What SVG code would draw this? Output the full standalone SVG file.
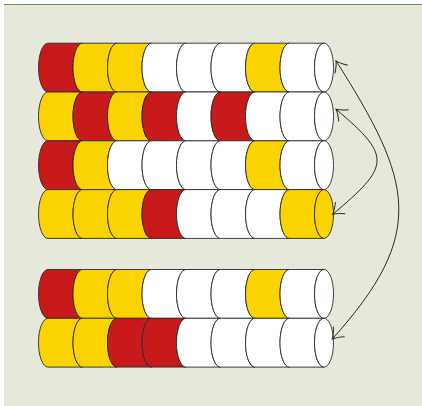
<svg xmlns="http://www.w3.org/2000/svg" xmlns:xlink="http://www.w3.org/1999/xlink" width="422" height="406" viewBox="0 0 422 406">
<style>
.r{fill:#c8191b}
.y{fill:#fbd300}
.w{fill:#ffffff}
.row{stroke:#2a2a2a;stroke-width:0.9}
.conn path{fill:none;stroke:#2a2a2a;stroke-width:1}
</style>
<defs>
<path id="seg" d="M0,-24.4 H34.5 A9.5 24.4 0 0 0 34.5,24.4 H0 A9.5 24.4 0 0 1 0,-24.4 Z"/>
<marker id="ah" viewBox="-12 -9 14 18" refX="0" refY="0" markerWidth="14" markerHeight="18" markerUnits="userSpaceOnUse" orient="auto-start-reverse">
<path d="M-10,-7.6 Q-4,-1.8 0,0 Q-4,1.8 -10,7.6" fill="none" stroke="#2a2a2a" stroke-width="1"/>
</marker>
</defs>
<rect x="4" y="4" width="418" height="402" fill="#e5e8db"/>
<line x1="4" y1="4.5" x2="422" y2="4.5" stroke="#5b9a4b" stroke-width="1.2"/>

<g id="row1" class="row" transform="translate(0,67.6)">
<use xlink:href="#seg" x="48" class="r"/><use xlink:href="#seg" x="82.5" class="y"/><use xlink:href="#seg" x="117" class="y"/><use xlink:href="#seg" x="151.5" class="w"/><use xlink:href="#seg" x="186" class="w"/><use xlink:href="#seg" x="220.5" class="w"/><use xlink:href="#seg" x="255" class="y"/><use xlink:href="#seg" x="289.5" class="w"/>
<ellipse cx="324" cy="0" rx="9.5" ry="24.4" class="w"/>
</g>
<g id="row2" class="row" transform="translate(0,116.4)">
<use xlink:href="#seg" x="48" class="y"/><use xlink:href="#seg" x="82.5" class="r"/><use xlink:href="#seg" x="117" class="y"/><use xlink:href="#seg" x="151.5" class="r"/><use xlink:href="#seg" x="186" class="w"/><use xlink:href="#seg" x="220.5" class="r"/><use xlink:href="#seg" x="255" class="w"/><use xlink:href="#seg" x="289.5" class="w"/>
<ellipse cx="324" cy="0" rx="9.5" ry="24.4" class="w"/>
</g>
<g id="row3" class="row" transform="translate(0,165.2)">
<use xlink:href="#seg" x="48" class="r"/><use xlink:href="#seg" x="82.5" class="y"/><use xlink:href="#seg" x="117" class="w"/><use xlink:href="#seg" x="151.5" class="w"/><use xlink:href="#seg" x="186" class="w"/><use xlink:href="#seg" x="220.5" class="w"/><use xlink:href="#seg" x="255" class="y"/><use xlink:href="#seg" x="289.5" class="w"/>
<ellipse cx="324" cy="0" rx="9.5" ry="24.4" class="w"/>
</g>
<g id="row4" class="row" transform="translate(0,214)">
<use xlink:href="#seg" x="48" class="y"/><use xlink:href="#seg" x="82.5" class="y"/><use xlink:href="#seg" x="117" class="y"/><use xlink:href="#seg" x="151.5" class="r"/><use xlink:href="#seg" x="186" class="w"/><use xlink:href="#seg" x="220.5" class="w"/><use xlink:href="#seg" x="255" class="w"/><use xlink:href="#seg" x="289.5" class="y"/>
<ellipse cx="324" cy="0" rx="9.5" ry="24.4" class="y"/>
</g>
<g id="row5" class="row" transform="translate(0,293.9)">
<use xlink:href="#seg" x="48" class="r"/><use xlink:href="#seg" x="82.5" class="y"/><use xlink:href="#seg" x="117" class="y"/><use xlink:href="#seg" x="151.5" class="w"/><use xlink:href="#seg" x="186" class="w"/><use xlink:href="#seg" x="220.5" class="w"/><use xlink:href="#seg" x="255" class="y"/><use xlink:href="#seg" x="289.5" class="w"/>
<ellipse cx="324" cy="0" rx="9.5" ry="24.4" class="w"/>
</g>
<g id="row6" class="row" transform="translate(0,342.7)">
<use xlink:href="#seg" x="48" class="y"/><use xlink:href="#seg" x="82.5" class="y"/><use xlink:href="#seg" x="117" class="r"/><use xlink:href="#seg" x="151.5" class="r"/><use xlink:href="#seg" x="186" class="w"/><use xlink:href="#seg" x="220.5" class="w"/><use xlink:href="#seg" x="255" class="w"/><use xlink:href="#seg" x="289.5" class="w"/>
<ellipse cx="324" cy="0" rx="9.5" ry="24.4" class="w"/>
</g>

<g id="connectors" class="conn">
<path d="M336,109.3 C392.7,156.6 389.7,166.4 332.7,214.3" marker-start="url(#ah)" marker-end="url(#ah)"/>
<path d="M336,60.8 C412.5,181.4 428,233 332.3,339" marker-start="url(#ah)" marker-end="url(#ah)"/>
</g>
</svg>
